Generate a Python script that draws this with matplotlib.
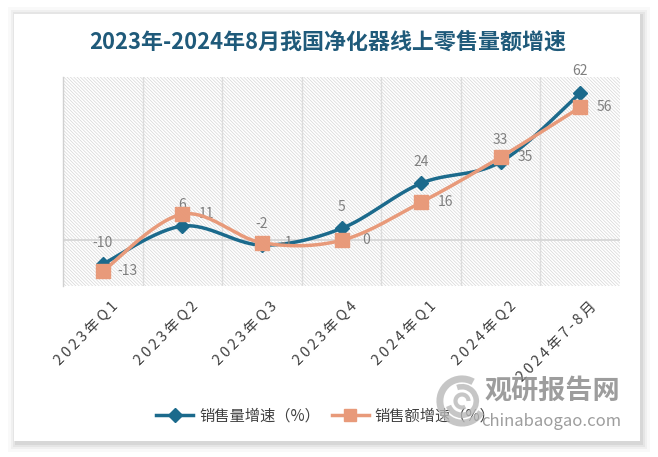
import numpy as np
import matplotlib
matplotlib.use('Agg')
import matplotlib.pyplot as plt
import matplotlib.transforms as mtransforms
from matplotlib.patches import Rectangle, Arc
from matplotlib.lines import Line2D

plt.rcParams['font.family'] = ['Noto Sans CJK SC', 'DejaVu Sans']
plt.rcParams['hatch.linewidth'] = 0.5

# data
categories = ['2023年Q1', '2023年Q2', '2023年Q3', '2023年Q4',
              '2024年Q1', '2024年Q2', '2024年7-8月']
volume_growth = [-10, 6, -2, 5, 24, 33, 62]    # 销售量增速
sales_growth = [-13, 11, -1, 0, 16, 35, 56]    # 销售额增速

title = '2023年-2024年8月我国净化器线上零售量额增速'
blue = '#1b6a8c'
orange = '#e89a7a'
W, H = 658, 457


def smooth(xs, ys, n=30):
    # Catmull-Rom style smoothing like the spreadsheet "smoothed line"
    xs = np.asarray(xs, float)
    ys = np.asarray(ys, float)
    px = np.concatenate([[xs[0]], xs, [xs[-1]]])
    py = np.concatenate([[ys[0]], ys, [ys[-1]]])
    outx, outy = [], []
    t = np.linspace(0, 1, n)
    for i in range(1, len(px) - 2):
        p0 = np.array([px[i], py[i]])
        p3 = np.array([px[i + 1], py[i + 1]])
        p1 = p0 + (np.array([px[i + 1], py[i + 1]]) - np.array([px[i - 1], py[i - 1]])) / 6
        p2 = p3 - (np.array([px[i + 2], py[i + 2]]) - np.array([px[i], py[i]])) / 6
        b = ((1 - t) ** 3)[:, None] * p0 + (3 * (1 - t) ** 2 * t)[:, None] * p1 \
            + (3 * (1 - t) * t ** 2)[:, None] * p2 + (t ** 3)[:, None] * p3
        outx.extend(b[:, 0])
        outy.extend(b[:, 1])
    return outx, outy


fig = plt.figure(figsize=(W / 100, H / 100), dpi=100, facecolor='white')

# card with soft shadow
for k, a in [(9, 0.025), (6, 0.035), (4, 0.045), (2, 0.06)]:
    fig.patches.append(Rectangle(((14 - k + 3) / W, (H - 441 - k - 2) / H),
                                 (626 + 2 * k - 2) / W, (427 + 2 * k) / H,
                                 transform=fig.transFigure, facecolor='black',
                                 alpha=a, edgecolor='none', zorder=-3))
fig.patches.append(Rectangle((14 / W, (H - 441) / H), 626 / W, 427 / H,
                             transform=fig.transFigure, facecolor='white',
                             edgecolor='none', zorder=-2))

fig.text(328 / W, 1 - 42 / H, title, ha='center', va='center',
         fontsize=15.8, fontweight='bold', color='#1f5a7a')

ax = fig.add_axes([63 / W, (H - 285.5) / H, 557 / W, 208.2 / H])
ax.set_zorder(2)
ax.set_facecolor('none')
x = np.arange(len(categories))
ax.set_xlim(-0.5, len(categories) - 0.5)
ax.set_ylim(-19, 68.6)

ax.add_patch(Rectangle((-0.5, -19), len(categories), 87.6, facecolor='white',
                       edgecolor='#d6d6d6', hatch='\\' * 10, lw=0, zorder=0))
for xv in x[:-1] + 0.5:
    ax.axvline(xv, color='#dcdcdc', lw=1, zorder=1)
ax.axhline(0, color='#d6d6d6', lw=1.3, zorder=1)

for s in ['top', 'right', 'bottom']:
    ax.spines[s].set_visible(False)
ax.spines['left'].set_color('#d0d0d0')
ax.spines['left'].set_linewidth(1)
ax.set_yticks([])
ax.set_xticks(x)
# spaced-out tick text like the original
spaced = ['\u2009'.join(c) for c in categories]
ax.set_xticklabels(spaced, rotation=45, ha='right', va='top',
                   rotation_mode='anchor', fontsize=10.5, color='#404040')
ax.tick_params(axis='x', length=0, pad=10)
shift = mtransforms.ScaledTranslation(9 / 100, 0, fig.dpi_scale_trans)
for lab in ax.get_xticklabels():
    lab.set_transform(lab.get_transform() + shift)

sx, sy = smooth(x, volume_growth)
ax.plot(sx, sy, color=blue, lw=2.5, zorder=3, solid_capstyle='round')
ax.plot(x, volume_growth, 'D', color=blue, ms=7, zorder=4)
sx, sy = smooth(x, sales_growth)
ax.plot(sx, sy, color=orange, lw=2.5, zorder=5, solid_capstyle='round')
ax.plot(x, sales_growth, 's', color=orange, ms=10, zorder=6)

for xi, v in zip(x, volume_growth):
    ax.annotate(str(v), (xi, v), xytext=(0, 15.5), textcoords='offset points',
                ha='center', va='center', fontsize=10, color='#7f7f7f')
for xi, v in zip(x, sales_growth):
    ax.annotate(str(v), (xi, v), xytext=(17.5, 0), textcoords='offset points',
                ha='center', va='center', fontsize=10, color='#7f7f7f')

handles = [Line2D([], [], color=blue, lw=2.5, marker='D', ms=7),
           Line2D([], [], color=orange, lw=2.5, marker='s', ms=9)]
fig.legend(handles, ['销售量增速（%）', '销售额增速（%）'], loc='center',
           bbox_to_anchor=(326 / W, 1 - 416 / H), ncol=2, frameon=False,
           fontsize=11, handlelength=2.4, columnspacing=0.8, handletextpad=0.4,
           labelcolor='#404040')

# watermark
wm = fig.add_axes([436 / W, (H - 430) / H, 52 / W, 58 / H], zorder=10)
wm.set_xlim(-1, 1)
wm.set_ylim(-1, 1)
wm.set_aspect('equal')
wm.axis('off')
for r, t1, t2, lw in [(0.85, 60, 330, 5), (0.55, 200, 470, 4), (0.25, 0, 300, 3)]:
    wm.add_patch(Arc((0, 0), 2 * r, 2 * r, theta1=t1, theta2=t2,
                     color='#b8b8b8', lw=lw, alpha=0.8))
fig.text(552 / W, 1 - 391 / H, '观研报告网', ha='center', va='center',
         fontsize=19.5, fontweight='bold', color='#8c8c8c', alpha=0.85, zorder=10)
fig.text(551 / W, 1 - 421 / H, 'chinabaogao.com', ha='center', va='center',
         fontsize=12, color='#8c8c8c', alpha=0.85, zorder=10)

fig.savefig('out.png', dpi=100, facecolor='white')
